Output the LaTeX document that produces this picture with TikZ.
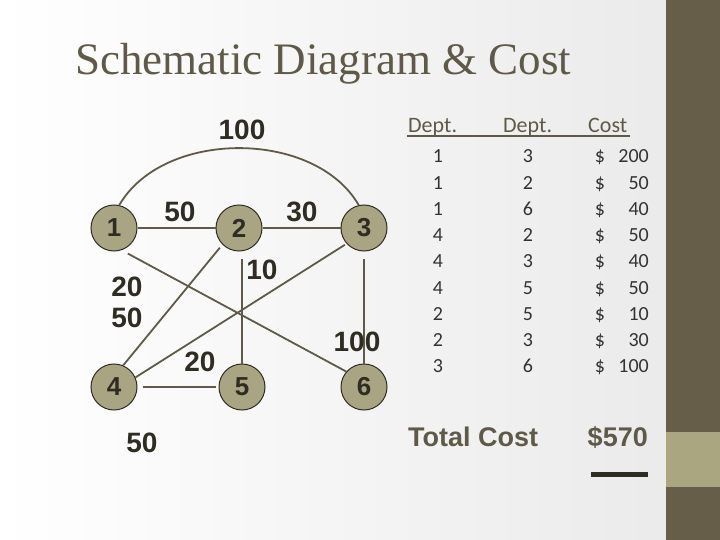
\documentclass[tikz,border=0pt]{standalone}
\usepackage{fontspec}
\setmainfont{Liberation Serif}
\newfontfamily\arialfont{Liberation Sans}
\newfontfamily\tablefont{Carlito}
\usetikzlibrary{positioning}

\definecolor{sidebar}{HTML}{665E49}
\definecolor{sideband}{HTML}{A9A680}
\definecolor{titlecol}{HTML}{5F5A48}
\definecolor{edgecol}{HTML}{5F5A48}
\definecolor{nodefill}{HTML}{A9A482}
\definecolor{nodeline}{HTML}{2F2C23}
\definecolor{tabtext}{HTML}{333333}

\tikzset{
  dept/.style={circle, draw=nodeline, line width=1pt, fill=nodefill,
    minimum size=46pt, inner sep=0pt, text=nodeline,
    font=\arialfont\bfseries\fontsize{26}{26}\selectfont},
  price/.style={inner sep=0pt, text=nodeline,
    font=\arialfont\bfseries\fontsize{28}{28}\selectfont},
  link/.style={draw=edgecol, line width=1.8pt},
  cell/.style={anchor=base, inner sep=0pt, text=tabtext,
    font=\tablefont\fontsize{20}{20}\selectfont},
  head/.style={anchor=base west, inner sep=0pt, text=titlecol,
    font=\tablefont\fontsize{22}{22}\selectfont},
  total/.style={anchor=base, inner sep=0pt, text=titlecol,
    font=\arialfont\bfseries\fontsize{27}{27}\selectfont}
}

\begin{document}
\begin{tikzpicture}[x=1pt,y=-1pt]
    \useasboundingbox (0,0) rectangle (720,540);
    \shade [left color=white, right color=gray!16] (0,0) rectangle (666,540);
    \fill [sidebar] (666,0) rectangle (720,540);
    \fill [sideband] (666,432) rectangle (720,487);

    \node [anchor=base west, inner sep=0pt, text=titlecol,
      font=\fontsize{45}{45}\selectfont] (title) at (75,75) {Schematic Diagram \& Cost};

    % departments
    \node [dept] (n1) at (114,228) {1};
    \node [dept] (n2) at (239,228) {2};
    \node [dept] (n3) at (364,228) {3};
    \node [dept] (n4) at (114,387) {4};
    \node [dept] (n5) at (242,387) {5};
    \node [dept] (n6) at (364,387) {6};

    \draw [link] (n1.east) -- (n2.west);
    \draw [link] (n2.east) -- (n3.west);
    \draw [link] (n1.77) .. controls +(44,-76) and +(-44,-76) .. (n3.103);
    \draw [link, shorten <=7pt] (n1.-71) -- (n6.139);
    \draw [link, shorten <=4pt] (n2.225) -- (n4.67);
    \draw [link, shorten <=7pt] (n2.south -| n5.north) -- (n5.north);
    \draw [link, shorten <=2pt] (n3.222) -- (n4.24);
    \draw [link, shorten <=7pt] (n3.south) -- (n6.north);
    \draw [link, shorten <=5pt, shorten >=3pt] (n4.east) -- (n5.west);

    % costs
    \node [price] (c13) at (242,130) {100};
    \node [price] (c12) at (180,212) {50};
    \node [price] (c23) at (302,212) {30};
    \node [price] (c25) at (262,270) {10};
    \node [price] (c16) at (127,287) {20};
    \node [price] (c24) at (127,318) {50};
    \node [price] (c45) at (200,362) {20};
    \node [price] (c36) at (357,342) {100};
    \node [price] (c43) at (142,443) {50};

    % table
    \node [head] (h1) at (408,133) {Dept.};
    \node [head] (h2) at (503,133) {Dept.};
    \node [head] (h3) at (588,133) {Cost};
    \draw [titlecol, line width=2.5pt] (407,136) -- (630,136);

    \foreach \a/\b/\c [count=\i] in {1/3/200, 1/2/50, 1/6/40, 4/2/50, 4/3/40,
                                     4/5/50, 2/5/10, 2/3/30, 3/6/100} {
        \node [cell] (a\i) at (438,{163+26.2*(\i-1)}) {\a};
        \node [cell] (b\i) at (528,{163+26.2*(\i-1)}) {\b};
        \node [cell] (d\i) at (600,{163+26.2*(\i-1)}) {\$};
        \node [cell, anchor=base east] (v\i) at (649,{163+26.2*(\i-1)}) {\c};
    }

    \node [total, anchor=base west] (tlabel) at (408,446) {Total Cost};
    \node [total, anchor=base east] (tvalue) at (648,446) {\$570};
    \fill [nodeline] (591,472) rectangle (648,477);
\end{tikzpicture}
\end{document}
